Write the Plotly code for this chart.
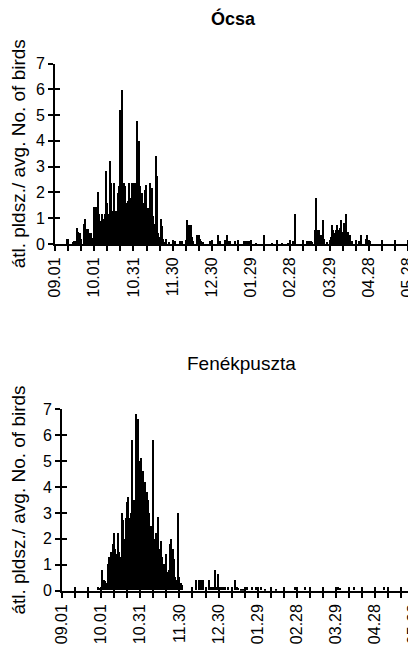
import plotly.graph_objects as go

# Day index 0 = 09.01 (Sep 1) ... 270 = 05.28
tick_days = [0, 10, 20, 30, 40, 50, 60, 70, 80, 90, 100, 110, 120, 130, 140,
             150, 160, 170, 180, 190, 200, 210, 220, 230, 240, 250, 260, 270]
tick_labels = ["09.01", "", "", "10.01", "", "", "10.31", "", "", "11.30", "", "",
               "12.30", "", "", "01.29", "", "", "02.28", "", "", "03.29", "", "",
               "04.28", "", "", "05.28"]

ocsa_days = [9, 10, 14, 15, 16, 17, 18, 19, 20, 22, 23, 24, 25, 26, 27, 28, 29,
             30, 31, 32, 33, 34, 35, 36, 37, 38, 39, 40, 41, 42, 43, 44, 45, 46, 47,
             48, 49, 50, 51, 52, 53, 54, 55, 56, 57, 58, 59, 60, 61, 62, 63, 64, 65,
             66, 67, 68, 69, 70, 71, 72, 73, 74, 75, 76, 77, 78, 79, 80, 81, 82, 83,
             84, 85, 87, 92, 96, 97, 101, 102, 103, 104, 105, 106, 109, 110, 111,
             112, 113, 119, 125, 126, 132, 133, 134, 138, 145, 146, 148, 149, 154,
             160, 166, 170, 174, 178, 182, 184, 193, 194, 195, 196, 197, 199, 200,
             201, 202, 203, 204, 205, 206, 208, 211, 212, 213, 214, 215, 216, 217,
             218, 219, 220, 221, 222, 223, 224, 225, 226, 227, 233, 234, 238, 239, 241]
ocsa_vals = [0.2, 0.2, 0.1, 0.15, 0.15, 0.64, 0.5, 0.45, 0.2, 0.8, 1.0, 0.6, 0.6,
             0.45, 0.4, 0.45, 0.25,
             1.45, 1.45, 1.45, 2.05, 1.2, 0.9, 1.2, 1.0, 1.2, 2.85, 1.6, 1.2, 3.25,
             2.4, 1.3, 2.4, 1.2, 1.3,
             2.0, 2.25, 5.2, 6.0, 2.4, 2.4, 2.25, 1.6, 1.7, 2.4, 1.8, 2.4, 2.4, 2.4,
             1.6, 4.8, 4.0, 2.25,
             1.8, 2.0, 1.6, 2.1, 2.3, 1.4, 1.2, 2.4, 2.2, 1.1, 0.8, 3.45, 2.65, 0.45,
             0.3, 1.0, 0.7, 0.2,
             0.1, 0.2, 0.1, 0.15, 0.15, 0.15, 0.96, 0.65, 0.75, 0.75, 0.3, 0.15, 0.38,
             0.38, 0.2,
             0.15, 0.1, 0.15, 0.38, 0.15, 0.38, 0.12, 0.12, 0.15, 0.15, 0.15, 0.15,
             0.15, 0.06,
             0.38, 0.04, 0.04, 0.04, 0.04, 0.12, 1.2, 0.15, 0.15, 0.15, 0.15, 0.1,
             0.58, 1.8,
             0.58, 0.58, 0.38, 0.38, 0.96, 0.2, 0.1, 0.3, 0.77, 0.58, 0.45, 0.58, 0.77,
             0.58,
             0.64, 0.96, 0.5, 0.83, 0.4, 1.2, 0.5, 0.32, 0.38, 0.15, 0.15, 0.38, 0.2,
             0.38, 0.15]

fen_days = [28, 29, 30, 31, 32, 33, 34, 35, 36, 37, 38, 39, 40, 41, 42, 43, 44, 45,
            46, 47, 48, 49, 50, 51, 52, 53, 54, 55, 56, 57, 58, 59, 60, 61, 62, 63,
            64, 65, 66, 67, 68, 69, 70, 71, 72, 73, 74, 75, 76, 77, 78, 79, 80, 81,
            82, 83, 84, 85, 86, 87, 88, 89, 90, 91, 92, 103, 105, 106, 107, 108, 113,
            114, 116, 117, 118, 120, 121, 122, 123, 124, 125, 127, 133, 134, 135,
            137, 139, 142, 146, 149, 153, 156, 160, 164, 179, 186, 212, 213, 220,
            224, 230, 247]
fen_vals = [0.15, 0.1, 0.1, 0.8, 0.4, 0.35, 0.3, 1.0, 1.3, 1.2, 1.5, 1.8, 2.2, 1.6,
            1.4, 2.2, 1.5, 1.3,
            3.0, 2.7, 2.0, 2.8, 3.4, 3.6, 2.8, 3.0, 5.8, 3.5, 3.0, 6.8, 6.6, 5.0, 4.4,
            5.1, 4.6, 3.3,
            4.2, 3.8, 3.5, 3.0, 2.5, 2.0, 5.8, 2.0, 2.2, 1.8, 2.85, 1.6, 1.9, 1.3, 1.0,
            0.9, 1.4, 0.7,
            0.8, 1.8, 2.0, 1.6, 1.2, 0.5, 0.4, 3.0, 0.5, 0.3, 0.2, 0.4, 0.4, 0.4, 0.4,
            0.4, 0.4,
            0.15, 0.15, 0.8, 0.15, 0.65, 0.15, 0.12, 0.15, 0.12, 0.15, 0.15, 0.4,
            0.12, 0.1,
            0.05, 0.05, 0.15, 0.15, 0.15, 0.15, 0.03, 0.03, 0.03, 0.15, 0.15, 0.15,
            0.1, 0.15,
            0.15, 0.15, 0.15]

y_ticks = [0, 1, 2, 3, 4, 5, 6, 7]
y_title = "átl. pldsz./ avg. No. of birds"
titles = ["Ócsa", "Fenékpuszta"]

FONT = "Liberation Sans, Arial, sans-serif"
OFF = 8                      # default page margin of the html body
W, H = 416 - OFF, 650 - OFF  # figure size so that page = window


def fx(px):
    return (px - OFF) / W


def fy(py):
    return 1 - (py - OFF) / H


fig = go.Figure()
fig.add_trace(go.Bar(x=ocsa_days, y=ocsa_vals, xaxis="x", yaxis="y", width=1,
                     marker=dict(color="black", line=dict(width=0)), showlegend=False))
fig.add_trace(go.Bar(x=fen_days, y=fen_vals, xaxis="x2", yaxis="y2", width=1,
                     marker=dict(color="black", line=dict(width=0)), showlegend=False))
# empty traces so the overlay axes (inner halves of the crossing ticks) are drawn
fig.add_trace(go.Scatter(x=[None], y=[None], xaxis="x3", yaxis="y3", showlegend=False,
                         hoverinfo="skip"))
fig.add_trace(go.Scatter(x=[None], y=[None], xaxis="x4", yaxis="y4", showlegend=False,
                         hoverinfo="skip"))

top_x_dom = [fx(55), fx(412)]
bot_x_dom = [fx(62), 1.0]
top_y_dom = [fy(244), fy(63.5)]
bot_y_dom = [fy(590.7), fy(409.3)]
top_x_range = [0, 273.1]
bot_x_range = [0, 271.3]


def xmain(dom, rng, anchor):
    return dict(domain=dom, range=rng, anchor=anchor, tickmode="array",
                tickvals=tick_days, ticktext=tick_labels, tickangle=-90,
                ticks="outside", ticklen=5, tickwidth=1.6, tickcolor="black",
                showline=True, linewidth=2, linecolor="black", showgrid=False,
                zeroline=False, fixedrange=True, automargin=False,
                ticklabeloverflow="allow",
                tickfont=dict(family=FONT, size=16, color="black"))


def ymain(dom, anchor):
    return dict(domain=dom, range=[0, 7], anchor=anchor, tickmode="array",
                tickvals=y_ticks, ticks="outside", ticklen=5, tickwidth=1.6,
                tickcolor="black", showline=True, linewidth=2, linecolor="black",
                showgrid=False, zeroline=False, fixedrange=True, automargin=False,
                ticklabeloverflow="allow",
                tickfont=dict(family=FONT, size=16, color="black"),
                title=dict(text=y_title, standoff=12,
                           font=dict(family=FONT, size=19, color="black")))


def overlay(over, anchor, rng, vals, side_len):
    return dict(overlaying=over, anchor=anchor, range=rng, tickmode="array",
                tickvals=vals, ticks="inside", ticklen=side_len, tickwidth=1.6,
                tickcolor="black", showticklabels=False, showline=False,
                showgrid=False, zeroline=False, fixedrange=True, automargin=False)


fig.update_layout(
    width=W, height=H,
    margin=dict(l=0, r=0, t=0, b=0, autoexpand=False),
    paper_bgcolor="white", plot_bgcolor="white",
    bargap=0,
    xaxis=xmain(top_x_dom, top_x_range, "y"),
    yaxis=ymain(top_y_dom, "x"),
    xaxis2=xmain(bot_x_dom, bot_x_range, "y2"),
    yaxis2=ymain(bot_y_dom, "x2"),
    xaxis3=overlay("x", "y", top_x_range, tick_days, 4),
    yaxis3=overlay("y", "x", [0, 7], y_ticks, 5),
    xaxis4=overlay("x2", "y2", bot_x_range, tick_days, 4),
    yaxis4=overlay("y2", "x2", [0, 7], y_ticks, 5),
    annotations=[
        dict(text="<b>" + titles[0] + "</b>", x=fx(233), y=fy(19), xref="paper",
             yref="paper", xanchor="center", yanchor="middle", showarrow=False,
             font=dict(family=FONT, size=18, color="black")),
        dict(text=titles[1], x=fx(241), y=fy(363), xref="paper", yref="paper",
             xanchor="center", yanchor="middle", showarrow=False,
             font=dict(family=FONT, size=19, color="black")),
    ],
)

fig.write_html("out.html")
